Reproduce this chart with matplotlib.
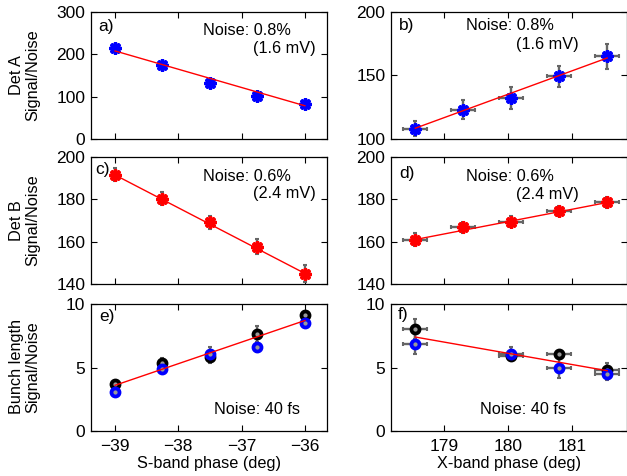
import matplotlib
matplotlib.use('Agg')
import matplotlib.pyplot as plt

plt.rcParams['font.family'] = ['Liberation Sans', 'DejaVu Sans']
plt.rcParams['font.size'] = 12

# S-band phase scan (left column)
s_phase = [-39, -38.25, -37.5, -36.75, -36]
detA_s = [216, 175, 132, 102, 82]
detA_s_err = [4, 4, 4, 4, 4]
detA_s_fit = [208, 78.5]
detB_s = [191.7, 180.3, 169.1, 157.6, 144.9]
detB_s_err = [3.1, 3.1, 3.0, 3.5, 3.9]
detB_s_fit = [191.5, 145]
bunch_s_black = [3.67, 5.37, 5.84, 7.64, 9.17]
bunch_s_black_err = [0.2, 0.35, 0.5, 0.6, 0.3]
bunch_s_blue = [3.09, 4.9, 6.1, 6.62, 8.54]
bunch_s_blue_err = [0.25, 0.35, 0.5, 0.4, 0.25]
bunch_s_fit = [3.6, 8.7]

# X-band phase scan (right column)
x_phase = [178.55, 179.3, 180.05, 180.8, 181.55]
x_phase_err = [0.19, 0.19, 0.19, 0.19, 0.19]
detA_x = [108.1, 123, 132.3, 149.3, 165]
detA_x_err = [5.9, 7.5, 8.7, 8.3, 9.7]
detA_x_fit = [108.5, 163.8]
detB_x = [161, 166.8, 169.5, 174.4, 178.6]
detB_x_err = [3.1, 2.6, 2.5, 2.5, 2.6]
detB_x_fit = [161, 178.5]
x_phase_f = [178.55, 180.05, 180.8, 181.55]
x_phase_f_err = [0.19, 0.19, 0.19, 0.19]
bunch_x_black = [8.04, 5.89, 6.07, 4.79]
bunch_x_black_err = [0.8, 0.3, 0.25, 0.6]
bunch_x_blue = [6.89, 6.1, 5.0, 4.5]
bunch_x_blue_err = [0.85, 0.5, 0.8, 0.5]
bunch_x_fit = [7.4, 4.75]

err_col = '#666666'

fig = plt.figure(figsize=(6.27, 4.76), dpi=100)
lefts = [0.1451, 0.6236]
bottoms = [0.708, 0.4034, 0.0945]
w, h = 0.3764, 0.2668
axes = [[fig.add_axes([l, b, w, h]) for l in lefts] for b in bottoms]


def star_points(ax, x, y, yerr, xerr, color):
    ax.errorbar(x, y, yerr=yerr, xerr=xerr, fmt='none', ecolor=err_col,
                elinewidth=1.7, capsize=1.2, capthick=1.5, zorder=2)
    ax.plot(x, y, 'o', ms=7, color=color, zorder=3)
    ax.plot(x, y, ls='none', marker=(8, 2, 0), ms=9, mew=2.3, color=color, zorder=3)


def ring_points(ax, x, y, yerr, xerr, color):
    ax.errorbar(x, y, yerr=yerr, xerr=xerr, fmt='none', ecolor=err_col,
                elinewidth=1.7, capsize=1.2, capthick=1.5, zorder=2)
    ax.plot(x, y, 'o', ms=5.8, mew=2.7, mec=color, mfc='0.6', zorder=3)


def fit_line(ax, x, yfit):
    ax.plot([x[0], x[-1]], yfit, color='red', lw=1, zorder=4)


# a)
ax = axes[0][0]
star_points(ax, s_phase, detA_s, detA_s_err, None, 'blue')
fit_line(ax, s_phase, detA_s_fit)
ax.set_ylim(0, 300)
ax.set_yticks([0, 100, 200, 300])
# b)
ax = axes[0][1]
star_points(ax, x_phase, detA_x, detA_x_err, x_phase_err, 'blue')
fit_line(ax, x_phase, detA_x_fit)
ax.set_ylim(100, 200)
ax.set_yticks([100, 150, 200])
# c)
ax = axes[1][0]
star_points(ax, s_phase, detB_s, detB_s_err, None, 'red')
fit_line(ax, s_phase, detB_s_fit)
ax.set_ylim(140, 200)
ax.set_yticks([140, 160, 180, 200])
# d)
ax = axes[1][1]
star_points(ax, x_phase, detB_x, detB_x_err, x_phase_err, 'red')
fit_line(ax, x_phase, detB_x_fit)
ax.set_ylim(140, 200)
ax.set_yticks([140, 160, 180, 200])
# e)
ax = axes[2][0]
ring_points(ax, s_phase, bunch_s_black, bunch_s_black_err, None, 'black')
ring_points(ax, s_phase, bunch_s_blue, bunch_s_blue_err, None, 'blue')
fit_line(ax, s_phase, bunch_s_fit)
ax.set_ylim(0, 10)
ax.set_yticks([0, 5, 10])
# f)
ax = axes[2][1]
ring_points(ax, x_phase_f, bunch_x_black, bunch_x_black_err, x_phase_f_err, 'black')
ring_points(ax, x_phase_f, bunch_x_blue, bunch_x_blue_err, x_phase_f_err, 'blue')
fit_line(ax, x_phase_f, bunch_x_fit)
ax.set_ylim(0, 10)
ax.set_yticks([0, 5, 10])

for row in range(3):
    for col in range(2):
        ax = axes[row][col]
        if col == 0:
            ax.set_xlim(-39.38, -35.65)
            ax.set_xticks([-39, -38, -37, -36])
        else:
            ax.set_xlim(178.17, 181.86)
            ax.set_xticks([179, 180, 181])
        ax.tick_params(direction='in', top=True, right=True, length=4,
                       width=0.8, labelsize=12.5)
        ax.tick_params(axis='x', pad=6)
        ax.tick_params(axis='y', pad=4)
        if row < 2:
            ax.set_xticklabels([])
        for sp in ax.spines.values():
            sp.set_linewidth(0.9)

# panel letters and noise annotations
letters = [['a)', 'b)'], ['c)', 'd)'], ['e)', 'f)']]
letter_pos = [[(0.031, 0.884), (0.035, 0.89)],
              [(0.02, 0.905), (0.035, 0.87)],
              [(0.034, 0.9), (0.03, 0.915)]]
for row in range(3):
    for col in range(2):
        x0, y0 = letter_pos[row][col]
        axes[row][col].text(x0, y0, letters[row][col], transform=axes[row][col].transAxes,
                            ha='left', va='center', fontsize=12.5)

noise_top = ['Noise: 0.8%', 'Noise: 0.6%']
noise_bottom = ['(1.6 mV)', '(2.4 mV)']
noise_y = [[(0.858, 0.709), (0.89, 0.746)], [(0.85, 0.714), (0.85, 0.706)]]
for row in range(2):
    axes[row][0].text(0.473, noise_y[row][0][0], noise_top[row],
                      transform=axes[row][0].transAxes, ha='left', va='center', fontsize=11.7)
    axes[row][0].text(0.953, noise_y[row][0][1], noise_bottom[row],
                      transform=axes[row][0].transAxes, ha='right', va='center', fontsize=11.7)
    axes[row][1].text(0.316, noise_y[row][1][0], noise_top[row],
                      transform=axes[row][1].transAxes, ha='left', va='center', fontsize=11.7)
    axes[row][1].text(0.794, noise_y[row][1][1], noise_bottom[row],
                      transform=axes[row][1].transAxes, ha='right', va='center', fontsize=11.7)
axes[2][0].text(0.521, 0.17, 'Noise: 40 fs', transform=axes[2][0].transAxes,
                ha='left', va='center', fontsize=11.7)
axes[2][1].text(0.377, 0.17, 'Noise: 40 fs', transform=axes[2][1].transAxes,
                ha='left', va='center', fontsize=11.7)

# row labels
row_labels = ['Det A\nSignal/Noise', 'Det B\nSignal/Noise', 'Bunch length\nSignal/Noise']
row_centers = [75.5, 220.5, 367]
for lab, yc in zip(row_labels, row_centers):
    fig.text(25 / 627, 1 - yc / 476, lab, rotation=90, ha='center', va='center',
             multialignment='center', fontsize=11.7, linespacing=1.1)

axes[2][0].set_xlabel('S-band phase (deg)', fontsize=11.7, labelpad=1)
axes[2][1].set_xlabel('X-band phase (deg)', fontsize=11.7, labelpad=1)

fig.savefig('out.png', dpi=100)
